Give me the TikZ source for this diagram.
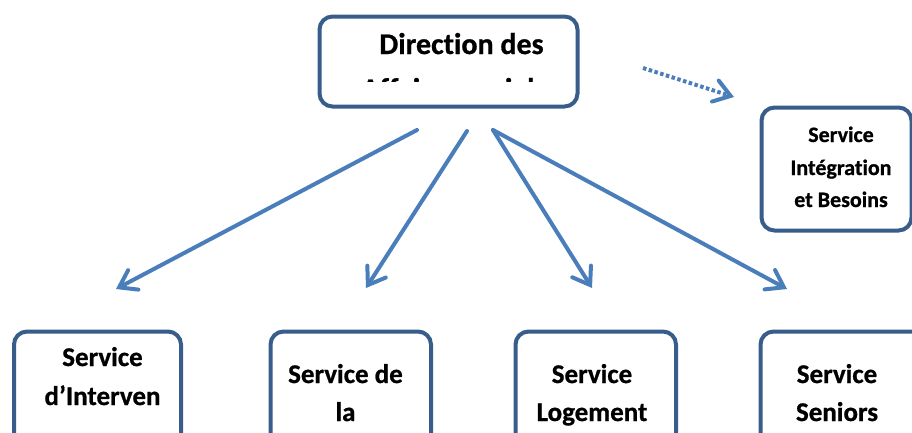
\documentclass[tikz,border=0pt]{standalone}
\usepackage{fontspec}
\setmainfont{Carlito}[BoldFont={Carlito Bold}, BoldFeatures={FakeBold=0.8}, Ligatures=NoCommon]
\usetikzlibrary{arrows.meta}
\definecolor{boxblue}{RGB}{56,93,138}
\definecolor{arrblue}{RGB}{74,126,187}
\tikzset{
  box/.style={draw=boxblue, line width=4pt, rounded corners=13pt, fill=white,
    inner sep=0pt, outer sep=0pt, anchor=north west},
  conn/.style={draw=arrblue, line width=4pt, line cap=round,
    -{Straight Barb[length=16pt,width=22pt,line cap=round]}},
  dotconn/.style={conn, line cap=butt, dash pattern=on 3.5pt off 2.5pt},
  bigtxt/.style={anchor=base, inner sep=0pt, font=\bfseries\fontsize{30}{36}\selectfont},
  midtxt/.style={anchor=base, inner sep=0pt, font=\bfseries\fontsize{27}{32}\selectfont},
  smalltxt/.style={anchor=base, inner sep=0pt, font=\bfseries\fontsize{22}{26}\selectfont},
}
\begin{document}
\begin{tikzpicture}[x=1pt,y=-1pt]
\path[use as bounding box, clip] (0,0) rectangle (912,432);
% boxes
\node[box, minimum width=258pt, minimum height=90pt] (dir) at (319.5,16.5) {};
\node[box, minimum width=150pt, minimum height=123pt] (integ) at (761.5,107.5) {};
\node[box, minimum width=167pt, minimum height=140pt] (interv) at (14,331.5) {};
\node[box, minimum width=160.5pt, minimum height=140pt] (dela) at (270.5,331.5) {};
\node[box, minimum width=160.5pt, minimum height=140pt] (logt) at (515.5,331.5) {};
\node[box, minimum width=180pt, minimum height=140pt] (senior) at (760.5,331.5) {};
% texts
\node[bigtxt] (dirA) at (461.5,54) {Direction des};
\begin{scope}
  \clip (322,19) rectangle (575,81.7);
  \node[bigtxt] (dirB) at (461.5,99) {Affaires sociales};
\end{scope}
\node[smalltxt] (intA) at (841,142) {Service};
\node[smalltxt] (intB) at (841,175) {Intégration};
\node[smalltxt] (intC) at (841,207) {et Besoins};
\node[midtxt] (ivA) at (102.5,366) {Service};
\node[midtxt] (ivB) at (102.5,405) {d’Interven};
\node[midtxt] (dlA) at (345.5,383) {Service de};
\node[midtxt] (dlB) at (345.5,421) {la};
\node[midtxt] (lgA) at (592,383) {Service};
\node[midtxt] (lgB) at (592,421) {Logement};
\node[midtxt] (snA) at (837,383) {Service};
\node[midtxt] (snB) at (837,421) {Seniors};
% connectors
\coordinate (s1) at (417,130);
\coordinate (e1) at (116,289);
\coordinate (s2) at (467,131);
\coordinate (e2) at (366,288);
\coordinate (s3) at (493,130);
\coordinate (e3) at (592,288);
\coordinate (s4) at (493,130);
\coordinate (e4) at (787,289);
\coordinate (s5) at (643,68);
\coordinate (e5) at (734,97);
\draw[conn] (s1) -- (e1);
\draw[conn] (s2) -- (e2);
\draw[conn] (s3) -- (e3);
\draw[conn] (s4) -- (e4);
\draw[dotconn] (s5) -- (e5);
\end{tikzpicture}
\end{document}
